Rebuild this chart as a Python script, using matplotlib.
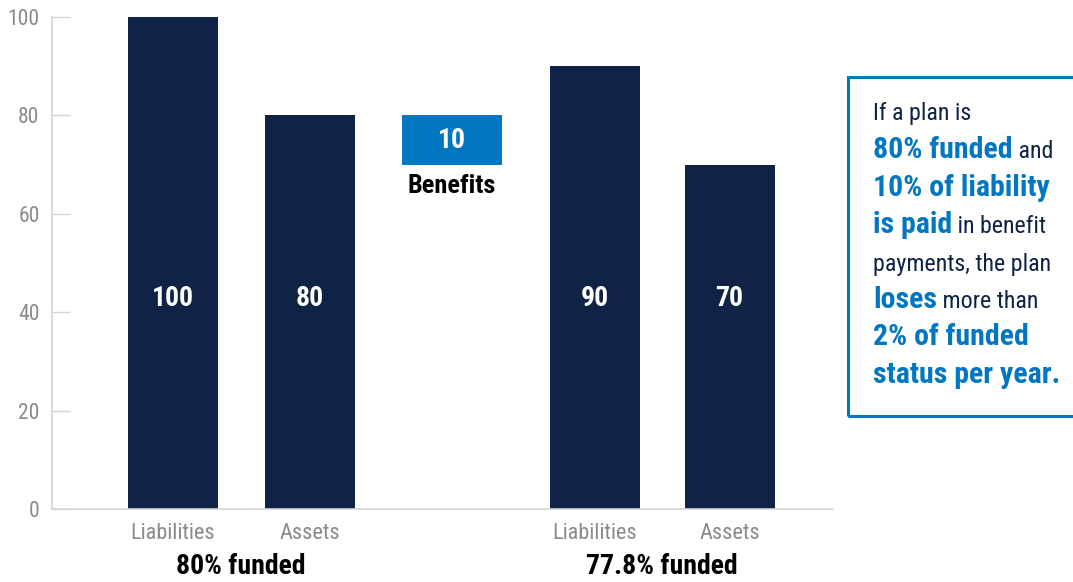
import matplotlib
matplotlib.use('Agg')
import matplotlib.pyplot as plt
from matplotlib import font_manager
from matplotlib.patches import Rectangle

# pick a narrow font if one is installed
available = {f.name for f in font_manager.fontManager.ttflist}
fontName = 'DejaVu Sans'
for name in ['Liberation Sans Narrow', 'Roboto Condensed', 'Open Sans Condensed', 'Roboto', 'Liberation Sans']:
    if name in available:
        fontName = name
        break
plt.rcParams['font.family'] = [fontName, 'DejaVu Sans']

# data
categories = ['Liabilities', 'Assets', 'Liabilities', 'Assets']
values = [100, 80, 90, 70]
groupLabels = ['80% funded', '77.8% funded']
benefitBase = 70
benefitValue = 10
benefitLabel = 'Benefits'
yTicks = [0, 20, 40, 60, 80, 100]

navy = '#0f2346'
blue = '#0077c0'
gray = '#8a8a8a'
lineGray = '#d4d4d4'

W, H = 1073, 582
fig = plt.figure(figsize=(W / 100, H / 100), dpi=100)
ax = fig.add_axes([52 / W, (H - 509) / H, (833 - 52) / W, (509 - 17) / H])

barX = [172.5, 309.5, 594.5, 729.5]
benefitX = 452
ax.bar(barX, values, width=90, color=navy)
ax.bar([benefitX], [benefitValue], bottom=[benefitBase], width=100, color=blue)

for x, v in zip(barX, values):
    ax.text(x, 42.7, str(v), color='white', fontsize=20, fontweight='bold',
            ha='center', va='center')
ax.text(benefitX, benefitBase + benefitValue / 2, str(benefitValue), color='white',
        fontsize=20, fontweight='bold', ha='center', va='center')
ax.text(benefitX, 65.6, benefitLabel, color='black', fontsize=19, fontweight='bold',
        ha='center', va='center')

ax.set_xlim(52, 833)
ax.set_ylim(0, 100)
ax.set_yticks(yTicks)
ax.set_xticks(barX)
ax.set_xticklabels(categories)
ax.tick_params(axis='y', direction='in', length=13, width=1, color=lineGray,
               labelcolor=gray, labelsize=15.5, pad=9)
ax.tick_params(axis='x', length=0, labelcolor=gray, labelsize=16, pad=10)
for side in ['top', 'right']:
    ax.spines[side].set_visible(False)
for side in ['left', 'bottom']:
    ax.spines[side].set_color(lineGray)
    ax.spines[side].set_linewidth(1.2)

# group labels under the categories
for i, label in enumerate(groupLabels):
    cx = (barX[2 * i] + barX[2 * i + 1]) / 2
    fig.text(cx / W, 1 - 567 / H, label, fontsize=20, fontweight='bold',
             color='black', ha='center', va='center')

# text box at right
fig.patches.append(Rectangle((848 / W, 1 - 416 / H), (240) / W, (416 - 77) / H,
                             transform=fig.transFigure, fill=False,
                             edgecolor=blue, linewidth=2.2))

boxLines = [
    [('If a plan is', False)],
    [('80% funded', True), (' and', False)],
    [('10% of liability', True)],
    [('is paid', True), (' in benefit', False)],
    [('payments, the plan', False)],
    [('loses', True), (' more than', False)],
    [('2% of funded', True)],
    [('status per year.', True)],
]
baselines = [120, 158, 196, 233, 271, 308, 345, 383]

renderer = fig.canvas.get_renderer()
for line, yb in zip(boxLines, baselines):
    x = 873
    for txt, bold in line:
        t = fig.text(x / W, 1 - yb / H, txt, va='baseline', ha='left',
                     color=blue if bold else navy,
                     fontsize=21.5 if bold else 17.3,
                     fontweight='bold' if bold else 'normal')
        x = t.get_window_extent(renderer).x1

fig.savefig('out.png', dpi=100)
